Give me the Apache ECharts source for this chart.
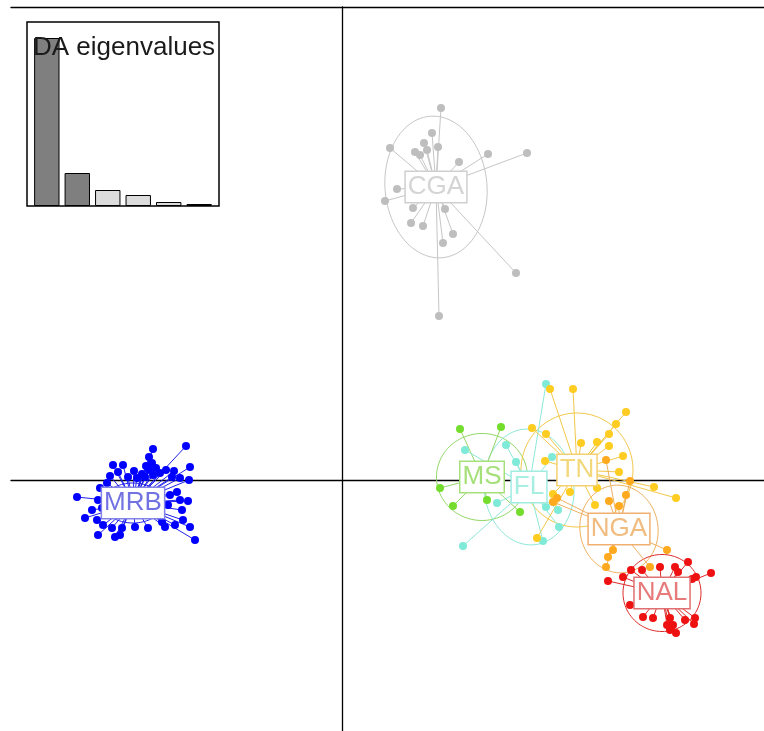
<!DOCTYPE html>
<html>
<head>
<meta charset="utf-8">
<script src="https://cdn.jsdelivr.net/npm/echarts@6/dist/echarts.min.js"></script>
<style>
  html, body { margin: 0; padding: 0; background: #fff; }
  #chart { width: 764px; height: 731px; }
</style>
</head>
<body>
<div id="chart"></div>
<script>
// Discriminant analysis scores (LD1, LD2) for each population
const groups = ['MRB', 'CGA', 'MS', 'FL', 'TN', 'NGA', 'NAL'];

const mrbScores = [
  [-18.9, 3.1], [-15.6, 3.4], [-22.9, 1.5], [-21.9, 1.5], [-19.0, 1.7], [-15.2, 1.3],
  [-22.4, 0.8], [-21.4, 0.3], [-20.5, 0.2], [-19.7, 0.3], [-18.9, 0.5], [-18.2, 0.7],
  [-17.0, 0.3], [-16.2, 0.2], [-15.3, 0.0], [-24.2, -0.8], [-26.5, -1.7], [-24.4, -2.0],
  [-16.2, -2.0], [-15.4, -2.1], [-17.4, -2.5], [-16.0, -3.0], [-25.0, -3.0], [-25.7, -3.8],
  [-24.5, -4.0], [-15.9, -4.0], [-23.9, -4.5], [-23.0, -4.8], [-22.0, -4.8], [-20.7, -4.7],
  [-19.4, -4.8], [-17.7, -4.7], [-16.7, -4.5], [-15.2, -4.7], [-24.4, -5.5], [-22.7, -5.7],
  [-22.2, -5.5], [-14.7, -6.0], [-18.0, -4.2], [-20.0, 0.6], [-19.3, 1.0], [-18.6, 1.2],
  [-20.8, 0.9], [-17.6, 1.0], [-16.8, 0.9], [-23.5, -0.3], [-24.0, -2.8], [-16.5, -1.2],
  [-17.2, -1.5], [-23.6, -1.5], [-22.5, -3.5], [-19.5, -3.2], [-21.5, -1.5], [-23.2, 0.4],
  [-19.3, 2.3], [-19.6, 1.4]
];
const cgaScores = [
  [9.9, 37.2], [9.0, 34.7], [8.2, 33.7], [7.3, 32.8], [7.8, 32.5], [8.5, 33.0], [9.6, 33.3],
  [4.8, 33.2], [14.6, 32.6], [18.5, 32.7], [11.7, 31.8], [5.5, 29.1], [4.3, 27.9], [7.1, 27.2],
  [10.3, 27.1], [6.9, 25.7], [8.1, 25.4], [11.1, 24.6], [10.1, 23.7], [17.4, 20.7], [9.7, 16.4]
];
const msScores = [
  [11.8, 5.1], [15.9, 5.3], [9.8, -0.8], [11.1, -2.6], [14.5, -2.0], [17.8, -3.2],
  [13.5, 1.0], [14.8, -0.2]
];
const flScores = [
  [20.4, 9.6], [12.3, 3.0], [16.4, 3.5], [17.4, 1.8], [21.0, 2.3], [15.5, -2.3],
  [20.4, -2.7], [12.1, -6.6], [20.1, -6.1], [21.6, -3.0], [21.7, -4.7]
];
const tnScores = [
  [20.8, 9.1], [23.1, 9.1], [28.4, 6.8], [27.4, 5.6], [19.0, 5.2], [20.4, 4.6], [26.7, 4.6],
  [23.9, 3.7], [25.5, 3.8], [26.7, 3.4], [28.1, 2.4], [20.3, 1.9], [27.7, 0.8], [25.5, -0.8],
  [22.8, -1.2], [31.2, -0.7], [33.4, -1.8], [21.1, -1.4], [19.5, -5.8], [25.3, -2.5]
];
const ngaScores = [
  [26.4, 2.0], [28.8, -0.1], [26.7, -2.1], [27.7, -2.6], [28.4, -1.5], [21.5, -1.8],
  [21.1, -2.2], [27.1, -7.0], [26.6, -7.7], [26.4, -8.7], [32.5, -7.0], [30.8, -8.7]
];
const nalScores = [
  [26.6, -10.1], [28.1, -9.7], [28.9, -9.0], [30.0, -9.0], [31.8, -8.7], [33.3, -8.7],
  [34.6, -8.2], [33.6, -9.2], [35.4, -9.7], [36.9, -9.3], [28.8, -12.5], [30.1, -13.7],
  [31.1, -13.8], [32.8, -13.8], [32.5, -14.5], [33.1, -14.5], [33.4, -15.3], [34.3, -14.0],
  [35.2, -14.4], [35.3, -13.8], [32.8, -15.0], [35.0, -9.9]
];

// group centres (LD1, LD2)
const centroids = [
  [-20.9, -2.3], [9.4, 29.3], [14.0, 0.3], [18.7, -0.7], [23.5, 1.0], [27.7, -4.9], [32.0, -11.3]
];
// inertia ellipses: semi-major, semi-minor, rotation (degrees)
const ellipseMajor = [3.0, 7.1, 4.55, 5.8, 5.7, 4.4, 3.9];
const ellipseMinor = [2.0, 5.1, 4.35, 4.5, 5.6, 3.9, 3.85];
const ellipseAngle = [0, 95, 0, 95, 90, 100, 0];

// eigenvalues of the discriminant functions (first two retained)
const eigenvalues = [840, 165, 80, 55, 20, 10];
const retainedDA = 2;

const scores = [mrbScores, cgaScores, msScores, flScores, tnScores, ngaScores, nalScores];

const pointColors = ['#0000ff', '#bebebe', '#74dc2c', '#80ead8', '#ffcc22', '#ffaa1e', '#ee1111'];
const lineColors  = ['#2020ee', '#c6c6c6', '#92d868', '#8ee8d8', '#f2c84a', '#eeb060', '#dd2a2a'];
const labelColors = ['#7272e2', '#d4d4d4', '#a6e07a', '#a8efe2', '#f3d77a', '#f0bc80', '#e77a7a'];
const boxColors   = ['#8484e8', '#cfcfcf', '#a6e07a', '#a0ece0', '#f3d070', '#efb070', '#e07070'];

const series = [];

// ellipses
groups.forEach((g, i) => {
  series.push({
    type: 'custom', name: g + ' ellipse', xAxisIndex: 0, yAxisIndex: 0, z: 1, silent: true,
    data: [[centroids[i][0], centroids[i][1], ellipseMajor[i], ellipseMinor[i], ellipseAngle[i]]],
    renderItem(params, api) {
      const cx = api.value(0), cy = api.value(1), a = api.value(2), b = api.value(3);
      const th = api.value(4) * Math.PI / 180;
      const pts = [];
      for (let k = 0; k <= 96; k++) {
        const t = k / 96 * 2 * Math.PI;
        const x = cx + a * Math.cos(th) * Math.cos(t) - b * Math.sin(th) * Math.sin(t);
        const y = cy + a * Math.sin(th) * Math.cos(t) + b * Math.cos(th) * Math.sin(t);
        pts.push(api.coord([x, y]));
      }
      return { type: 'polyline', shape: { points: pts },
               style: { stroke: lineColors[i], lineWidth: 1, fill: null } };
    }
  });
});

// stars: segments from each group centre to its members
groups.forEach((g, i) => {
  series.push({
    type: 'custom', name: g + ' star', xAxisIndex: 0, yAxisIndex: 0, z: 2, silent: true,
    data: scores[i].map(p => [p[0], p[1], centroids[i][0], centroids[i][1]]),
    renderItem(params, api) {
      const p = api.coord([api.value(0), api.value(1)]);
      const c = api.coord([api.value(2), api.value(3)]);
      return { type: 'line', shape: { x1: c[0], y1: c[1], x2: p[0], y2: p[1] },
               style: { stroke: lineColors[i], lineWidth: 1 } };
    }
  });
});

// individuals
groups.forEach((g, i) => {
  series.push({
    type: 'scatter', name: g, xAxisIndex: 0, yAxisIndex: 0, z: 3, silent: true,
    symbol: 'circle', symbolSize: 8,
    itemStyle: { color: pointColors[i], opacity: 1 },
    data: scores[i]
  });
});

// group labels
groups.forEach((g, i) => {
  series.push({
    type: 'scatter', name: g + ' label', xAxisIndex: 0, yAxisIndex: 0, z: 4, silent: true,
    symbolSize: 0.1,
    itemStyle: { opacity: 1, color: '#ffffff' },
    data: [centroids[i]],
    label: {
      show: true, position: 'inside', formatter: g,
      fontFamily: 'Liberation Sans, Arial, sans-serif', fontSize: 26,
      color: labelColors[i], backgroundColor: '#ffffff',
      borderColor: boxColors[i], borderWidth: 1.5, padding: [3, 2, 2, 2], lineHeight: 25
    }
  });
});

// eigenvalue barplot
series.push({
  type: 'bar', name: 'eigenvalues', xAxisIndex: 1, yAxisIndex: 1, z: 5, silent: true,
  barWidth: 25.4,
  data: eigenvalues.map((v, i) => ({
    value: [0.7 + 1.2 * i, v],
    itemStyle: { color: i < retainedDA ? '#7f7f7f' : '#dcdcdc' }
  })),
  itemStyle: { borderColor: '#000', borderWidth: 1 }
});

const hiddenAxis = { axisLabel: { show: false }, axisTick: { show: false }, splitLine: { show: false } };
const frameLine = { show: true, onZero: false, lineStyle: { color: '#000', width: 1.3 } };

const option = {
  animation: false,
  backgroundColor: '#ffffff',
  grid: [
    { left: 11, top: 7, right: 0, bottom: 0, show: false },
    { left: 27, top: 22, width: 192, height: 184, show: true, borderColor: '#000', borderWidth: 1.5,
      backgroundColor: '#ffffff', z: 4 }
  ],
  xAxis: [
    Object.assign({ type: 'value', gridIndex: 0, min: -33.1, max: 42.2, position: 'bottom',
      axisLine: { show: true, onZero: true, onZeroAxisIndex: 0, lineStyle: { color: '#000', width: 1.3 } } }, hiddenAxis),
    Object.assign({ type: 'value', gridIndex: 1, min: -0.08, max: 7.48,
      axisLine: { show: false } }, hiddenAxis),
    // top edge of the plotting frame
    Object.assign({ type: 'value', gridIndex: 0, min: 0, max: 1, position: 'top',
      axisLine: frameLine }, hiddenAxis)
  ],
  yAxis: [
    Object.assign({ type: 'value', gridIndex: 0, min: -25.1, max: 47.3, position: 'left',
      axisLine: { show: true, onZero: true, onZeroAxisIndex: 0, lineStyle: { color: '#000', width: 1.3 } } }, hiddenAxis),
    Object.assign({ type: 'value', gridIndex: 1, min: 0, max: 920,
      axisLine: { show: false } }, hiddenAxis),
    // left edge of the plotting frame
    Object.assign({ type: 'value', gridIndex: 0, min: 0, max: 1, position: 'right', offset: 753,
      axisLine: frameLine }, hiddenAxis)
  ],
  graphic: [
    { type: 'text', left: 33, top: 35, z: 10, silent: true,
      style: { text: 'DA eigenvalues', font: '26px "Liberation Sans", Arial, sans-serif', fill: '#1a1a1a' } }
  ],
  series: series
};

const chart = echarts.init(document.getElementById('chart'), null, { renderer: 'canvas' });
chart.setOption(option);
</script>
</body>
</html>
